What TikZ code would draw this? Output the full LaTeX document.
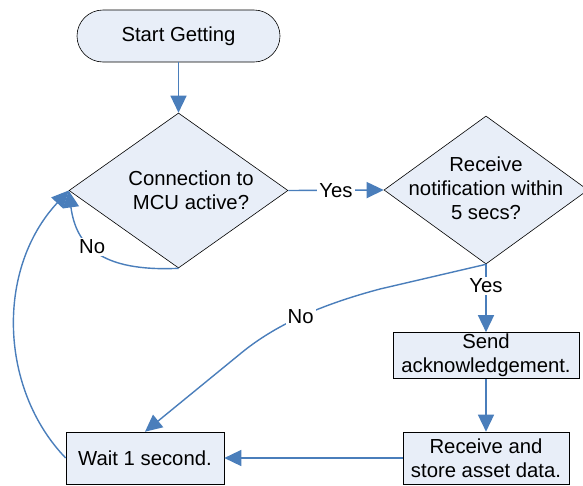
\documentclass[tikz,border=0pt]{standalone}
\usepackage{fontspec}
\setmainfont{Liberation Sans}
\usetikzlibrary{arrows.meta,shapes.geometric}
\definecolor{boxfill}{HTML}{E8EEF8}
\definecolor{arrowblue}{HTML}{4A7EBB}
\begin{document}
\begin{tikzpicture}[x=1pt,y=-1pt,
  font=\fontsize{20.3}{24}\selectfont,
  every node/.style={inner sep=0pt},
  procbox/.style={draw=black, line width=0.6pt, fill=boxfill, align=center},
  termbox/.style={draw=black, line width=0.6pt, fill=boxfill, rounded corners=26pt, align=center},
  decbox/.style={draw=black, line width=0.6pt, fill=boxfill, diamond},
  dectext/.style={align=center},
  conn/.style={draw=arrowblue, line width=1.4pt, -{Triangle[length=17pt,width=16pt]}},
  lbl/.style={fill=white, inner sep=2pt}]
\useasboundingbox (0,0) rectangle (583,485);

\node[termbox, minimum width=203pt, minimum height=52pt] (start) at (178.5,36) {Start Getting};

\node[decbox, minimum width=219pt, minimum height=155pt] (d1) at (178.5,190.5) {};
\node[dectext] (d1t) at (191,190) {Connection to\\MCU active?};

\node[decbox, minimum width=204pt, minimum height=148pt] (d2) at (486,190) {};
\node[dectext] (d2t) at (486,188) {Receive\\notification within\\5 secs?};

\node[procbox, minimum width=186pt, minimum height=46pt] (send) at (486,355.5) {Send\\acknowledgement.};
\node[procbox, minimum width=166pt, minimum height=52pt] (recv) at (486,458) {Receive and\\store asset data.};
\node[procbox, minimum width=158pt, minimum height=52pt] (wait) at (145,458) {Wait 1 second.};

\draw[conn] (start.south) -- (d1.north);
\draw[conn] (d1.east) -- node[lbl] (y1) {Yes} (d2.west);
\draw[conn] (d2.south) -- node[lbl, pos=0.32] (y2) {Yes} (send.north);
\draw[conn] (send.south) -- (recv.north);
\draw[conn] (recv.west) -- (wait.east);
\draw[conn] (d2.south) -- (380,289) .. controls (320,305) and (275,325) .. (240,354)
  node[lbl, pos=0.5] (n2) {No} -- (wait.north);
\draw[conn] (wait.west) .. controls (0,390) and (-5,270) .. (d1.west);
\draw[conn] (d1.south) .. controls (100,272) and (76,245) .. node[lbl, pos=0.55] (n1) {No} (d1.west);
\end{tikzpicture}
\end{document}
